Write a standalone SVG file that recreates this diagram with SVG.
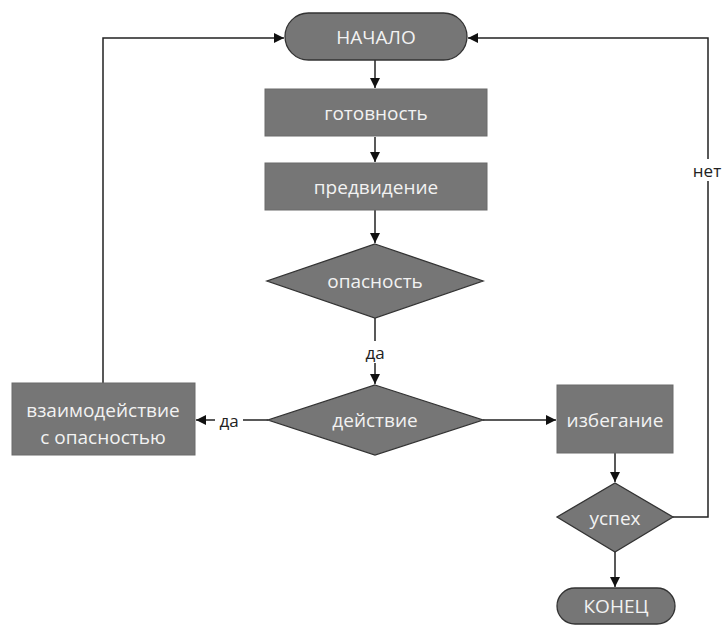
<svg xmlns="http://www.w3.org/2000/svg" width="726" height="625" viewBox="0 0 726 625">
<defs>
<marker id="ah" viewBox="0 0 10 10" refX="10" refY="5" markerWidth="10" markerHeight="10" markerUnits="userSpaceOnUse" orient="auto">
<path d="M0,0 L10,5 L0,10 z" fill="#111"/>
</marker>
<style>
.box{fill:#767676;stroke:#6a6a6a;stroke-width:1}
.shape{fill:#767676;stroke:#333;stroke-width:1.3}
.t{font-family:"Open Sans","Liberation Sans",sans-serif;font-size:19px;fill:#f2f2f2;text-anchor:middle;dominant-baseline:central}
.lbl{font-family:"Open Sans","Liberation Sans",sans-serif;font-size:17px;fill:#222;text-anchor:middle;dominant-baseline:central}
.c{fill:none;stroke:#222;stroke-width:1.5}
</style>
</defs>
<rect width="726" height="625" fill="#fff"/>
<g id="connectors">
<path class="c" d="M375,60 V88" marker-end="url(#ah)"/>
<path class="c" d="M375,137 V162" marker-end="url(#ah)"/>
<path class="c" d="M375,210 V243" marker-end="url(#ah)"/>
<path class="c" d="M375,318 V384" marker-end="url(#ah)"/>
<path class="c" d="M268,420 H196" marker-end="url(#ah)"/>
<path class="c" d="M483,420 H556" marker-end="url(#ah)"/>
<path class="c" d="M103,383 V38 H284" marker-end="url(#ah)"/>
<path class="c" d="M615,453 V482" marker-end="url(#ah)"/>
<path class="c" d="M615,552 V587" marker-end="url(#ah)"/>
<path class="c" d="M673,517 H708 V38 H468" marker-end="url(#ah)"/>
<rect x="361" y="341" width="28" height="22" fill="#fff"/>
<text class="lbl" x="375" y="352">да</text>
<rect x="215" y="409" width="28" height="22" fill="#fff"/>
<text class="lbl" x="229" y="420">да</text>
<rect x="690" y="159" width="36" height="22" fill="#fff"/>
<text class="lbl" x="707" y="170">нет</text>
</g>
<g id="start">
<rect class="shape" x="285" y="13" width="182" height="47" rx="23.5"/>
<text class="t" x="376" y="37">НАЧАЛО</text>
</g>
<g id="readiness">
<rect class="box" x="265" y="89" width="222" height="47"/>
<text class="t" x="376" y="113">готовность</text>
</g>
<g id="foresight">
<rect class="box" x="265" y="163" width="222" height="47"/>
<text class="t" x="376" y="187">предвидение</text>
</g>
<g id="danger">
<polygon class="shape" points="375,244 483,281 375,318 267,281"/>
<text class="t" x="375" y="281">опасность</text>
</g>
<g id="action">
<polygon class="shape" points="375,385 483,420 375,455 268,420"/>
<text class="t" x="375" y="420">действие</text>
</g>
<g id="interaction">
<rect class="box" x="12" y="383" width="183" height="72"/>
<text class="t" x="103" y="410">взаимодействие</text>
<text class="t" x="103" y="437">с опасностью</text>
</g>
<g id="avoidance">
<rect class="box" x="557" y="385" width="116" height="68"/>
<text class="t" x="615" y="420">избегание</text>
</g>
<g id="success">
<polygon class="shape" points="615,483 673,517 615,552 557,517"/>
<text class="t" x="615" y="518">успех</text>
</g>
<g id="end">
<rect class="shape" x="557" y="588" width="118" height="36" rx="18"/>
<text class="t" x="616" y="606">КОНЕЦ</text>
</g>
</svg>
